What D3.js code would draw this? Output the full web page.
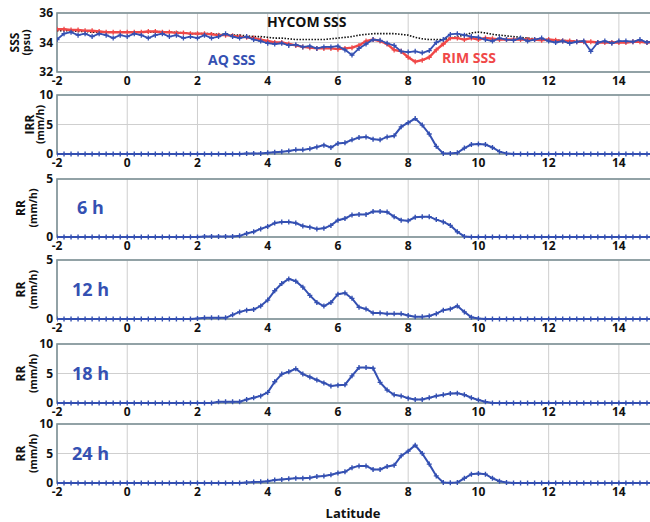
<!DOCTYPE html>
<html>
<head>
<meta charset="utf-8">
<script src="https://cdn.jsdelivr.net/npm/d3@7"></script>
<style>
  body { margin: 0; background: #fff; }
  svg { display: block; font-family: "Open Sans", "DejaVu Sans", sans-serif; }
  .tick-label { font-size: 12px; font-weight: 700; fill: #111; }
  .ylab { font-size: 12px; font-weight: 700; fill: #111; }
</style>
</head>
<body>
<div id="chart-area"></div>
<script>
// latitude grid, 0.2 deg steps from -2 to 15
const lat = d3.range(86).map(i => +(-2 + 0.2 * i).toFixed(1));
const xTicks = [-2, 0, 2, 4, 6, 8, 10, 12, 14];

// SSS (psu)
const hycomSSS = [34.8,34.8,34.8,34.75,34.75,34.7, 34.7,34.7,34.7,34.7,34.7,
  34.7,34.7,34.7,34.7,34.75,34.7,34.7,34.65,34.6,34.6,
  34.6,34.6,34.55,34.55,34.5,34.5,34.45,34.4,34.4,34.35,
  34.3,34.3,34.25,34.2,34.2,34.2,34.2,34.2,34.25,34.3,
  34.35,34.4,34.5,34.55,34.6,34.6,34.6,34.6,34.55,34.5,
  34.35,34.25,34.2,34.2,34.2,34.3,34.4,34.5,34.65,34.7,
  34.65,34.55,34.5,34.45,34.4,34.35,34.3,34.25,34.2,34.2,
  34.15,34.15,34.1,34.1,34.05,34.05,34.05,34.05,34.05,34.05,
  34.05,34.05,34.05,34.05,34.05];
const rimSSS = [34.9,34.9,34.85,34.85,34.8,34.8, 34.75,34.7,34.7,34.7,34.7,
  34.7,34.7,34.75,34.75,34.7,34.7,34.65,34.65,34.6,34.6,
  34.6,34.55,34.5,34.5,34.45,34.4,34.35,34.3,34.2,34.1,
  34.0,34.0,33.9,33.8,33.7,33.65,33.6,33.6,33.6,33.55,
  33.6,33.65,33.8,34.1,34.2,34.1,33.9,33.5,33.4,33.0,
  32.7,32.8,33.0,33.5,33.9,34.3,34.3,34.2,34.3,34.2,
  34.3,34.25,34.2,34.2,34.2,34.2,34.2,34.2,34.15,34.2,
  34.15,34.1,34.1,34.05,34.05,34.05,34.0,34.0,34.0,34.0,
  34.0,34.05,34.05,34.0,34.05];
const aqSSS = [34.2,34.6,34.7,34.5,34.6,34.4, 34.6,34.5,34.3,34.5,34.4,
  34.6,34.5,34.3,34.5,34.6,34.4,34.5,34.3,34.4,34.3,
  34.5,34.3,34.4,34.6,34.4,34.3,34.4,34.2,34.1,33.95,
  33.9,33.95,33.8,33.85,33.7,33.75,33.6,33.7,33.7,33.75,
  33.5,33.15,33.6,33.9,34.2,34.15,33.95,33.8,33.4,33.35,
  33.4,33.3,33.45,34.0,34.2,34.55,34.6,34.5,34.4,34.35,
  34.2,34.1,34.3,34.2,34.15,34.3,34.1,34.2,34.3,34.1,
  34.0,34.1,33.95,34.05,34.1,33.4,34.0,34.1,33.95,34.1,
  34.1,34.05,34.2,34.0,34.1];

// rain rates (mm/h)
const irr = [0,0,0,0,0,0, 0,0,0,0,0,
  0,0,0,0,0,0,0,0,0,0,
  0,0,0,0,0,0,0.1,0.1,0.1,0.2,
  0.3,0.4,0.5,0.7,0.7,0.9,1.2,1.5,1.1,1.8,
  1.9,2.4,2.8,2.9,2.5,2.4,2.9,3.1,4.6,5.3,
  6.0,4.9,3.4,1.3,0.1,0.1,0.2,1.0,1.6,1.7,
  1.6,1.1,0.4,0.1,0,0,0,0,0,0,
  0,0,0,0,0,0,0,0,0,0,
  0,0,0,0,0];
const rr6 = [0,0,0,0,0,0, 0,0,0,0,0,
  0,0,0,0,0,0,0,0,0,0,
  0.05,0.05,0.05,0.05,0.05,0.1,0.3,0.45,0.7,0.9,
  1.2,1.3,1.3,1.2,0.95,0.85,0.7,0.75,1.0,1.45,
  1.6,1.9,1.95,1.95,2.2,2.2,2.15,1.75,1.45,1.4,
  1.7,1.75,1.75,1.5,1.3,1.0,0.45,0.05,0,0,
  0,0,0,0,0,0,0,0,0,0,
  0,0,0,0,0,0,0,0,0,0,
  0,0,0,0,0];
const rr12 = [0,0,0,0,0,0, 0,0,0,0,0,
  0,0,0,0,0,0,0,0,0,0.05,
  0.1,0.1,0.1,0.1,0.35,0.6,0.75,0.8,1.1,1.6,
  2.4,3.0,3.4,3.2,2.7,2.0,1.4,1.1,1.4,2.1,
  2.2,1.75,1.0,0.85,0.5,0.5,0.45,0.45,0.45,0.3,
  0.2,0.2,0.25,0.45,0.75,0.85,1.1,0.6,0.15,0.05,
  0,0,0,0,0,0,0,0,0,0,
  0,0,0,0,0,0,0,0,0,0,
  0,0,0,0,0];
const rr18 = [0,0,0,0,0,0, 0,0,0,0,0,
  0,0,0,0,0,0,0,0,0,0,
  0,0,0.2,0.2,0.2,0.2,0.6,0.9,1.2,1.8,
  3.6,4.9,5.3,5.8,4.9,4.4,3.9,3.4,2.9,3.0,
  3.1,4.6,6.0,6.0,5.9,3.5,2.2,1.4,1.2,0.8,
  0.6,0.6,0.9,1.2,1.4,1.6,1.65,1.4,0.9,0.5,
  0.2,0,0,0,0,0,0,0,0,0,
  0,0,0,0,0,0,0,0,0,0,
  0,0,0,0,0];
const rr24 = [0,0,0,0,0,0, 0,0,0,0,0,
  0,0,0,0,0,0,0,0,0,0,
  0,0,0,0,0,0,0.1,0.15,0.2,0.3,
  0.5,0.6,0.7,0.8,0.8,0.9,1.1,1.2,1.4,1.7,
  1.9,2.6,2.9,2.9,2.3,2.3,2.8,3.0,4.6,5.4,
  6.4,5.0,3.2,1.2,0.1,0.05,0.1,0.8,1.5,1.6,
  1.5,0.8,0.3,0.1,0,0,0,0,0,0,
  0,0,0,0,0,0,0,0,0,0,
  0,0,0,0,0];

const blue = "#3450b2", red = "#f04848";

const svg = d3.select("#chart-area").append("svg")
  .attr("width", 650).attr("height", 522);

const x = d3.scaleLinear().domain([-2, 15]).range([57, 654]);

const panels = [
  {top: 13, bottom: 72, domain: [32, 36], ticks: [32, 34, 36], lab: ["SSS", "(psu)"], labX: [15, 26]},
  {top: 95, bottom: 154, domain: [0, 10], ticks: [0, 5, 10], lab: ["IRR", "(mm/h)"], labX: [30, 40], series: irr},
  {top: 179, bottom: 237, domain: [0, 5], ticks: [0, 5], lab: ["RR", "(mm/h)"], labX: [21, 33], series: rr6, tag: "6 h", tagX: 77},
  {top: 260, bottom: 319, domain: [0, 5], ticks: [0, 5], lab: ["RR", "(mm/h)"], labX: [21, 33], series: rr12, tag: "12 h", tagX: 72},
  {top: 344, bottom: 403, domain: [0, 10], ticks: [0, 5, 10], lab: ["RR", "(mm/h)"], labX: [21, 33], series: rr18, tag: "18 h", tagX: 72},
  {top: 424, bottom: 483, domain: [0, 10], ticks: [0, 5, 10], lab: ["RR", "(mm/h)"], labX: [21, 33], series: rr24, tag: "24 h", tagX: 72}
];

// plus markers at each data point
function plusPath(xs, ys, vals, s) {
  return vals.map((v, i) => {
    let px = xs(lat[i]), py = ys(v);
    return "M" + (px - s) + "," + py + "h" + (2 * s) + "M" + px + "," + (py - s) + "v" + (2 * s);
  }).join("");
}

panels.forEach(p => {
  let y = d3.scaleLinear().domain(p.domain).range([p.bottom, p.top]);
  let g = svg.append("g");

  g.append("clipPath").attr("id", "clip" + p.top)
    .append("rect").attr("x", 57).attr("y", p.top - 4).attr("width", 600).attr("height", p.bottom - p.top + 8);

  // grid
  g.selectAll(".vg").data(xTicks).enter().append("line")
    .attr("x1", d => x(d)).attr("x2", d => x(d))
    .attr("y1", p.top).attr("y2", p.bottom)
    .attr("stroke", "#cfcfcf").attr("stroke-width", 1);
  g.selectAll(".hg").data(p.ticks).enter().append("line")
    .attr("x1", 57).attr("x2", 650)
    .attr("y1", d => y(d)).attr("y2", d => y(d))
    .attr("stroke", "#cfcfcf").attr("stroke-width", 1);

  // frame
  g.append("rect").attr("x", 57).attr("y", p.top)
    .attr("width", 597).attr("height", p.bottom - p.top)
    .attr("fill", "none").attr("stroke", "#7d9196").attr("stroke-width", 1.6);

  // tick labels
  g.selectAll(".yt").data(p.ticks).enter().append("text")
    .attr("class", "tick-label")
    .attr("x", 53).attr("y", d => y(d)).attr("dy", "0.35em")
    .attr("text-anchor", "end").text(d => d);
  g.selectAll(".xt").data(xTicks).enter().append("text")
    .attr("class", "tick-label")
    .attr("x", d => x(d)).attr("y", p.bottom + 13)
    .attr("text-anchor", "middle").text(d => d);

  // y labels
  let cy = (p.top + p.bottom) / 2;
  p.lab.forEach((t, k) => {
    g.append("text").attr("class", "ylab")
      .attr("transform", "translate(" + p.labX[k] + "," + cy + ") rotate(-90)")
      .attr("text-anchor", "middle").attr("dy", "0.35em")
      .style("font-size", k == 1 ? "10.5px" : "12px")
      .text(t);
  });

  let line = d3.line().x((d, i) => x(lat[i])).y(d => y(d));
  let plot = g.append("g").attr("clip-path", "url(#clip" + p.top + ")");

  if (p.series) {
    plot.append("path").attr("d", line(p.series))
      .attr("fill", "none").attr("stroke", blue).attr("stroke-width", 2);
    plot.append("path").attr("d", plusPath(x, y, p.series, 2.5))
      .attr("fill", "none").attr("stroke", blue).attr("stroke-width", 1.4);
    g.append("text").attr("x", p.tagX).attr("y", cy + 6)
      .style("font-size", "18px").style("font-weight", 700).attr("fill", blue)
      .text(p.tag);
  } else {
    // SSS panel
    plot.append("path").attr("d", line(hycomSSS))
      .attr("fill", "none").attr("stroke", "#111").attr("stroke-width", 1.6)
      .attr("stroke-dasharray", "1.5,1.5");
    plot.append("path").attr("d", line(rimSSS))
      .attr("fill", "none").attr("stroke", red).attr("stroke-width", 2.4);
    plot.append("path").attr("d", plusPath(x, y, rimSSS, 2.5))
      .attr("fill", "none").attr("stroke", red).attr("stroke-width", 1.3);
    plot.append("path").attr("d", line(aqSSS))
      .attr("fill", "none").attr("stroke", blue).attr("stroke-width", 1.8);
    plot.append("path").attr("d", plusPath(x, y, aqSSS, 2.5))
      .attr("fill", "none").attr("stroke", blue).attr("stroke-width", 1.3);

    g.append("text").attr("x", 267).attr("y", 27)
      .style("font-size", "14px").style("font-weight", 700).attr("fill", "#111").text("HYCOM SSS");
    g.append("text").attr("x", 208).attr("y", 65)
      .style("font-size", "14px").style("font-weight", 700).attr("fill", blue).text("AQ SSS");
    g.append("text").attr("x", 442).attr("y", 63)
      .style("font-size", "14px").style("font-weight", 700).attr("fill", red).text("RIM SSS");
  }
});

svg.append("text").attr("x", 353).attr("y", 518)
  .attr("text-anchor", "middle")
  .style("font-size", "13px").style("font-weight", 700).attr("fill", "#111")
  .text("Latitude");
</script>
</body>
</html>
